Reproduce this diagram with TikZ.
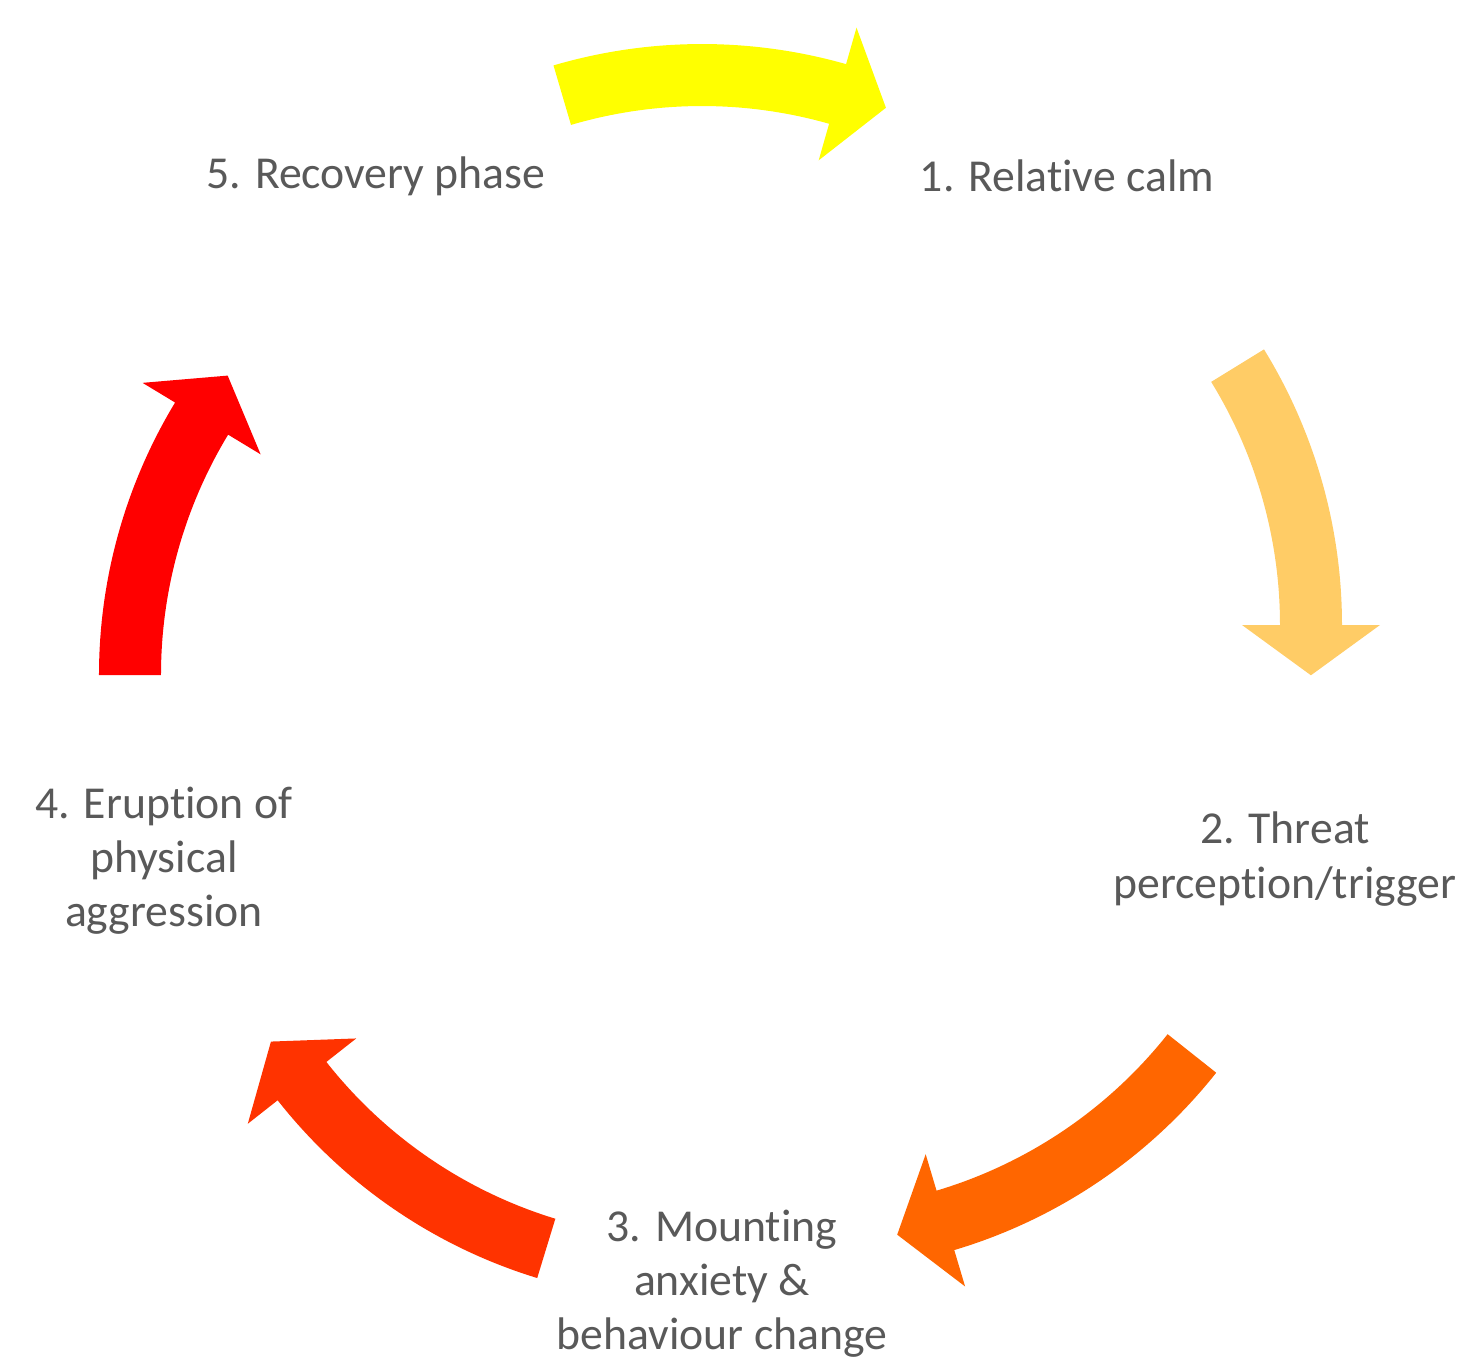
\documentclass[tikz,border=0pt]{standalone}
\usepackage{fontspec}
\setmainfont[Ligatures=NoCommon]{Carlito}
\usepackage{tikz}

\definecolor{labelgray}{RGB}{89,89,89}
\definecolor{calmyellow}{RGB}{255,255,0}
\definecolor{threatorange}{RGB}{255,204,102}
\definecolor{mountorange}{RGB}{255,102,0}
\definecolor{eruptred}{RGB}{255,51,0}
\definecolor{recoverred}{RGB}{255,0,0}

\begin{document}
\begin{tikzpicture}[x=0.01cm, y=0.01cm]
\tikzstyle{every node} = [align=center, text=labelgray, font=\fontsize{13}{15.4}\selectfont]
\useasboundingbox (-727,-688) rectangle (743,678);
\node (calm) at (340, 502) {1. Relative calm};
\node (threat) at (558, -181) {2. Threat\\perception/trigger};
\node (mount) at (-5, -606) {3. Mounting\\anxiety \&\\behaviour change};
\node (erupt) at (-563, -183) {4. Eruption of\\physical\\aggression};
\node (recover) at (-351, 502) {5. Recovery phase};
% block arrows, each on its own circle
\foreach \col/\cx/\cy/\a/\b in {calmyellow/-25/108/106.4/74.1, threatorange/89/53/31.6/0,
  mountorange/77/-68/-38.4/-73.4, eruptred/-36/-97/-107/-141.8, recoverred/-102/3/180/148.8}
{
\begin{scope}[shift={(\cx,\cy)}]
\fill[\col] (\a:526) arc[start angle=\a, end angle=\b, radius=526] -- (\b:564)
  -- (\b-5.8:497.5) -- (\b:426) -- (\b:464) arc[start angle=\b, end angle=\a, radius=464] -- cycle;
\end{scope}
}
\end{tikzpicture}
\end{document}
